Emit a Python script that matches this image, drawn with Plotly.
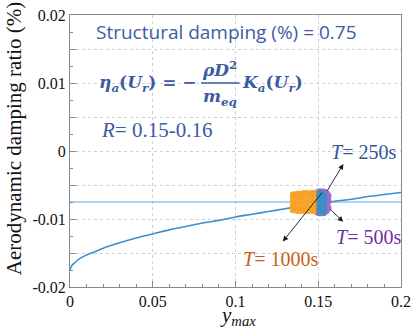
import plotly.graph_objects as go

# ---- data ----
curve_x = [0, 0.001, 0.003, 0.006, 0.01, 0.015, 0.02, 0.03, 0.04, 0.05, 0.06, 0.07, 0.08,
           0.09, 0.10, 0.11, 0.12, 0.13, 0.14, 0.15, 0.16, 0.17, 0.18, 0.19, 0.20]
curve_y = [-0.0175, -0.0169, -0.0164, -0.0158, -0.0153, -0.0148, -0.0143, -0.0135, -0.0128,
           -0.0122, -0.0116, -0.0111, -0.0106, -0.0102, -0.0097, -0.0093, -0.0089, -0.0085,
           -0.0081, -0.0078, -0.0074, -0.0071, -0.0067, -0.0064, -0.0061]

struct_x = [0, 0.2]
struct_y = [-0.0075, -0.0075]

t1000_xcols = [0.1352, 0.1364, 0.1377, 0.1389, 0.1401, 0.1413, 0.1426, 0.1438, 0.1450,
               0.1463, 0.1475, 0.1488, 0.1500]
t1000_row1 = [-0.0066, -0.0065, -0.0067, -0.0064, -0.0066, -0.0065, -0.0063, -0.0066,
              -0.0064, -0.0065, -0.0063, -0.0066, -0.0064]
t1000_row2 = [-0.0076, -0.0077, -0.0075, -0.0078, -0.0076, -0.0074, -0.0077, -0.0075,
              -0.0076, -0.0078, -0.0075, -0.0077, -0.0076]
t1000_row3 = [-0.0085, -0.0086, -0.0084, -0.0087, -0.0085, -0.0086, -0.0087, -0.0084,
              -0.0086, -0.0085, -0.0087, -0.0084, -0.0086]

t500_xcols = [0.1482, 0.1490, 0.1498, 0.1506, 0.1514, 0.1522, 0.1530, 0.1538, 0.1546, 0.1556]
t500_row1 = [-0.0064, -0.0063, -0.0062, -0.0061, -0.0061, -0.0062, -0.0061, -0.0062, -0.0063, -0.0066]
t500_row2 = [-0.0074, -0.0073, -0.0075, -0.0074, -0.0073, -0.0075, -0.0074, -0.0073, -0.0075, -0.0074]
t500_row3 = [-0.0086, -0.0088, -0.0089, -0.0090, -0.0090, -0.0089, -0.0090, -0.0088, -0.0087, -0.0084]

t250_xcols = [0.1504, 0.1515, 0.1527, 0.1539]
t250_rows = [
    [-0.0062, -0.0061, -0.0063, -0.0064],
    [-0.0069, -0.0070, -0.0068, -0.0070],
    [-0.0076, -0.0077, -0.0075, -0.0076],
    [-0.0083, -0.0082, -0.0084, -0.0083],
    [-0.0090, -0.0089, -0.0091, -0.0088],
]

y_tickvals = [-0.02, -0.015, -0.01, -0.005, 0, 0.005, 0.01, 0.015, 0.02]
y_ticktext = ["-0.02", "", "-0.01", "", "0", "", "0.01", "", "0.02"]
x_tickvals = [0, 0.05, 0.1, 0.15, 0.2]
x_ticktext = ["0", "0.05", "0.1", "0.15", "0.2"]

# ---- figure ----
fig = go.Figure()
fig.add_trace(go.Scatter(x=struct_x, y=struct_y, mode="lines",
                         line=dict(color="#8ec5e8", width=1.5), showlegend=False))
fig.add_trace(go.Scatter(x=curve_x, y=curve_y, mode="lines", line_shape="spline",
                         line=dict(color="#3f8fcb", width=1.6), showlegend=False))

px5, py5 = [], []
for row in (t500_row1, t500_row2, t500_row3):
    px5 += t500_xcols
    py5 += row
fig.add_trace(go.Scatter(x=px5, y=py5, mode="markers", showlegend=False,
                         marker=dict(symbol="circle", size=8, color="#a46ac9", line=dict(width=0))))

px1, py1 = [], []
for row in (t1000_row1, t1000_row2, t1000_row3):
    px1 += t1000_xcols
    py1 += row
fig.add_trace(go.Scatter(x=px1, y=py1, mode="markers", showlegend=False,
                         marker=dict(symbol="square", size=7, color="#fb9a1c",
                                     line=dict(width=0.6, color="#f5b04a"))))

px2, py2 = [], []
for row in t250_rows:
    px2 += t250_xcols
    py2 += row
fig.add_trace(go.Scatter(x=px2, y=py2, mode="markers", showlegend=False,
                         marker=dict(symbol="square", size=5, color="#3f8dc4", line=dict(width=0))))

serif = "Liberation Serif, Times New Roman, serif"
blue_txt = "#3d5ba3"

ann = []
# arrows
arrows = [((0.1652, -0.0019), (0.1548, -0.0061)),
          ((0.1650, -0.0104), (0.1566, -0.0084)),
          ((0.1286, -0.0133), (0.1530, -0.0059))]
for (hx, hy), (tx, ty) in arrows:
    ann.append(dict(x=hx, y=hy, ax=tx, ay=ty, xref="x", yref="y", axref="x", ayref="y",
                    showarrow=True, arrowhead=2, arrowsize=1.2, arrowwidth=0.9,
                    arrowcolor="#1a1a1a", text=""))

ann.append(dict(x=0.1775, y=-0.0001, xref="x", yref="y", showarrow=False,
                text="<i>T</i>= 250s", font=dict(family=serif, size=20, color="#2f5597")))
ann.append(dict(x=0.1805, y=-0.0126, xref="x", yref="y", showarrow=False,
                text="<i>T</i>= 500s", font=dict(family=serif, size=20, color="#7030a0")))
ann.append(dict(x=0.127, y=-0.0159, xref="x", yref="y", showarrow=False,
                text="<i>T</i>= 1000s", font=dict(family=serif, size=20, color="#c8601a")))

# top-left texts (paper coordinates via pixels)
W, H = 418, 328
L, R, T, B = 70, 12, 7, 41
pw, ph = W - L - R, H - T - B

def px(xp):
    return (xp - L) / pw

def py(yp):
    return 1 - (yp - T) / ph

ann.append(dict(x=px(94), y=py(24), xref="paper", yref="paper", xanchor="left", yanchor="middle",
                showarrow=False, text="Structural damping (%) = 0.75",
                font=dict(family="Open Sans, sans-serif", size=19, color=blue_txt)))
fb = "DejaVu Serif, serif"
ann.append(dict(x=px(97), y=py(77), xref="paper", yref="paper", xanchor="left", yanchor="middle",
                showarrow=False,
                text="<b><i>η<sub>a</sub></i>(<i>U<sub>r</sub></i>) = −</b>",
                font=dict(family=fb, size=17, color=blue_txt)))
ann.append(dict(x=px(222), y=py(63), xref="paper", yref="paper", xanchor="center", yanchor="middle",
                showarrow=False, text="<b><i>ρD</i><sup>2</sup></b>",
                font=dict(family=fb, size=17, color=blue_txt)))
ann.append(dict(x=px(222), y=py(92), xref="paper", yref="paper", xanchor="center", yanchor="middle",
                showarrow=False, text="<b><i>m<sub>eq</sub></i></b>",
                font=dict(family=fb, size=17, color=blue_txt)))
ann.append(dict(x=px(243), y=py(77), xref="paper", yref="paper", xanchor="left", yanchor="middle",
                showarrow=False, text="<b><i>K<sub>a</sub></i>(<i>U<sub>r</sub></i>)</b>",
                font=dict(family=fb, size=17, color=blue_txt)))
ann.append(dict(x=px(99), y=py(125), xref="paper", yref="paper", xanchor="left", yanchor="middle",
                showarrow=False, text="<i>R</i>= 0.15-0.16",
                font=dict(family=serif, size=21, color=blue_txt)))

# axis titles
ann.append(dict(x=px(14), y=py(134), xref="paper", yref="paper", xanchor="center", yanchor="middle",
                showarrow=False, textangle=-90, text="Aerodynamic damping ratio (%)",
                font=dict(family=serif, size=21, color="#111111")))
ann.append(dict(x=px(241), y=py(317), xref="paper", yref="paper", xanchor="center", yanchor="middle",
                showarrow=False, text="<i>y<sub>max</sub></i>",
                font=dict(family=serif, size=21, color="#111111")))

fig.update_layout(
    width=W, height=H,
    margin=dict(l=L, r=R, t=T, b=B),
    paper_bgcolor="white", plot_bgcolor="white",
    annotations=ann,
    shapes=[dict(type="line", xref="paper", yref="paper", x0=px(203), x1=px(242),
                 y0=py(77), y1=py(77), line=dict(color=blue_txt, width=1.6))],
)
fig.update_xaxes(range=[0, 0.2], tickvals=x_tickvals, ticktext=x_ticktext,
                 showgrid=True, gridcolor="#cfcfcf", griddash="dot", gridwidth=1,
                 showline=True, linecolor="#8a8a8a", linewidth=1, mirror=True,
                 ticks="inside", ticklen=6, tickcolor="#8a8a8a", ticklabeloverflow="allow",
                 minor=dict(dtick=0.01, tick0=0, ticks="inside", ticklen=3, tickcolor="#8a8a8a", showgrid=False),
                 tickfont=dict(family=serif, size=16, color="#111111"), zeroline=False)
fig.update_yaxes(range=[-0.02, 0.02], tickvals=y_tickvals, ticktext=y_ticktext,
                 showgrid=True, gridcolor="#cfcfcf", griddash="dot", gridwidth=1,
                 showline=True, linecolor="#8a8a8a", linewidth=1, mirror=True,
                 ticks="inside", ticklen=6, tickcolor="#8a8a8a", ticklabeloverflow="allow",
                 minor=dict(dtick=0.0025, tick0=0, ticks="inside", ticklen=3, tickcolor="#8a8a8a", showgrid=False),
                 tickfont=dict(family=serif, size=16, color="#111111"), zeroline=False)

fig.write_html("out.html")
